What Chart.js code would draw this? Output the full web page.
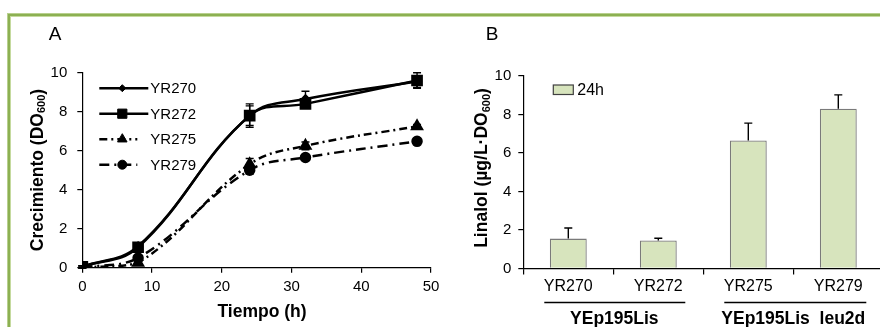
<!DOCTYPE html>
<html><head><meta charset="utf-8">
<script src="https://cdn.jsdelivr.net/npm/chart.js@4.4.0/dist/chart.umd.min.js"></script>
<style>
html,body{margin:0;padding:0;background:#fff;width:880px;height:327px;overflow:hidden;position:relative}
#frame{position:absolute;left:8px;top:14px;width:900px;height:400px;border:2px solid #8cb052;box-shadow:0 0 0 1px #b8d08e, inset 0 0 0 1px #c5da9f;}
#cA{position:absolute;left:0;top:0}
#cB{position:absolute;left:440px;top:0}
</style></head><body>
<div id="frame"></div>
<canvas id="cA" width="440" height="327"></canvas>
<canvas id="cB" width="450" height="327"></canvas>
<script>
// ---- Panel A data: growth (DO600) vs time (h)
const timeHours = [0, 8, 24, 32, 48];
const yr270 = [0.05, 1.1, 7.8, 8.65, 9.55];
const yr270Err = [0.05, 0.1, 0.5, 0.4, 0.3];
const yr272 = [0.05, 1.05, 7.8, 8.4, 9.6];
const yr272Err = [0.05, 0.1, 0.6, 0.2, 0.4];
const yr275 = [0.0, 0.25, 5.3, 6.25, 7.25];
const yr275Err = [0.02, 0.1, 0.3, 0.2, 0.1];
const yr279 = [0.0, 0.5, 5.0, 5.65, 6.48];
const yr279Err = [0.02, 0.1, 0.2, 0.1, 0.1];
const seriesNames = ['YR270', 'YR272', 'YR275', 'YR279'];
const timeTicks = [0, 10, 20, 30, 40, 50];
const growthTicks = [0, 2, 4, 6, 8, 10];

// ---- Panel B data: linalool at 24 h
const strains = ['YR270', 'YR272', 'YR275', 'YR279'];
const linalol24h = [1.55, 1.45, 6.65, 8.3];
const linalolErr = [0.55, 0.12, 0.9, 0.72];
const groupLabels = ['YEp195Lis', 'YEp195Lis  leu2d'];
const linalolTicks = [0, 2, 4, 6, 8, 10];
const legendB = '24h';

Chart.defaults.font.family = "'Liberation Sans', Arial, sans-serif";
Chart.defaults.color = '#000';
const FONT = "'Liberation Sans', Arial, sans-serif";

function toXY(xs, ys){ return xs.map((x,i)=>({x:x, y:ys[i]})); }

function drawSubTitle(ctx, cx, cy, parts, rotate){
  ctx.save();
  ctx.translate(cx, cy);
  if (rotate) ctx.rotate(-Math.PI/2);
  let total = 0;
  parts.forEach(p=>{ ctx.font = p.font; p.w = ctx.measureText(p.t).width; total += p.w; });
  let x = -total/2;
  ctx.textBaseline = 'middle';
  ctx.textAlign = 'left';
  ctx.fillStyle = '#000';
  parts.forEach(p=>{ ctx.font = p.font; ctx.fillText(p.t, x, p.dy||0); x += p.w; });
  ctx.restore();
}

function errorBars(chart, both){
  const ctx = chart.ctx;
  const ys = chart.scales.y;
  chart.data.datasets.forEach((ds, di)=>{
    if (!ds.errors) return;
    const meta = chart.getDatasetMeta(di);
    ctx.save();
    ctx.strokeStyle = '#000';
    ctx.lineWidth = 1.4;
    ctx.setLineDash([]);
    meta.data.forEach((el, i)=>{
      const v = both ? ds.data[i].y : ds.data[i];
      const e = ds.errors[i];
      const x = el.x;
      const yt = ys.getPixelForValue(v + e);
      const yb = both ? ys.getPixelForValue(v - e) : ys.getPixelForValue(v);
      ctx.beginPath();
      ctx.moveTo(x, yt); ctx.lineTo(x, yb);
      ctx.moveTo(x-4, yt); ctx.lineTo(x+4, yt);
      if (both){ ctx.moveTo(x-4, yb); ctx.lineTo(x+4, yb); }
      ctx.stroke();
    });
    ctx.restore();
  });
}

const pluginA = {
  id: 'panelA',
  afterDatasetsDraw(chart){ errorBars(chart, true); },
  afterDraw(chart){
    const ctx = chart.ctx, a = chart.chartArea;
    ctx.save();
    ctx.font = '19px ' + FONT; ctx.fillStyle = '#000';
    ctx.textAlign = 'center'; ctx.textBaseline = 'middle';
    ctx.fillText('A', 55, 35);
    ctx.font = 'bold 17.5px ' + FONT;
    ctx.fillText('Tiempo (h)', 262, 312);
    ctx.restore();
    drawSubTitle(ctx, 38, 170, [
      {t:'Crecimiento (DO', font:'bold 17.5px ' + FONT},
      {t:'600', font:'bold 11px ' + FONT, dy:4},
      {t:')', font:'bold 17.5px ' + FONT}
    ], true);
    // legend
    const rows = [15.5, 41, 66.5, 92];
    chart.data.datasets.forEach((ds, i)=>{
      const y = a.top + rows[i];
      const x0 = a.left + 17, x1 = ds.borderDash ? a.left + 55 : a.left + 66;
      ctx.save();
      ctx.strokeStyle = '#000'; ctx.fillStyle = '#000';
      ctx.lineWidth = ds.borderWidth;
      ctx.setLineDash(ds.borderDash || []);
      ctx.beginPath(); ctx.moveTo(x0, y); ctx.lineTo(x1, y); ctx.stroke();
      ctx.setLineDash([]);
      ctx.lineWidth = 1;
      Chart.helpers.drawPoint(ctx, {pointStyle: ds.pointStyle, radius: ds.pointRadius, rotation: 0, borderWidth: 1}, a.left + 40, y);
      ctx.font = '15px ' + FONT;
      ctx.textAlign = 'left'; ctx.textBaseline = 'middle';
      ctx.fillText(ds.label, a.left + 68, y + 1);
      ctx.restore();
    });
  }
};

const colorsA = '#000';
new Chart(document.getElementById('cA'), {
  type: 'line',
  data: {
    datasets: [
      {label: seriesNames[0], data: toXY(timeHours, yr270), errors: yr270Err, borderColor: colorsA, backgroundColor: colorsA,
       borderWidth: 2.5, tension: 0.4, pointStyle: 'rectRot', pointRadius: 3.5, pointBackgroundColor: colorsA, pointBorderColor: colorsA},
      {label: seriesNames[1], data: toXY(timeHours, yr272), errors: yr272Err, borderColor: colorsA, backgroundColor: colorsA,
       borderWidth: 2.5, tension: 0.4, pointStyle: 'rect', pointRadius: 6.5, pointBackgroundColor: colorsA, pointBorderColor: colorsA},
      {label: seriesNames[2], data: toXY(timeHours, yr275), errors: yr275Err, borderColor: colorsA, backgroundColor: colorsA,
       borderWidth: 2.5, tension: 0.4, borderDash: [8,4,2,4], pointStyle: 'triangle', pointRadius: 5.5, pointBackgroundColor: colorsA, pointBorderColor: colorsA},
      {label: seriesNames[3], data: toXY(timeHours, yr279), errors: yr279Err, borderColor: colorsA, backgroundColor: colorsA,
       borderWidth: 2.5, tension: 0.4, borderDash: [10,5,2,5], pointStyle: 'circle', pointRadius: 4.5, pointBackgroundColor: colorsA, pointBorderColor: colorsA}
    ]
  },
  options: {
    responsive: false, animation: false, devicePixelRatio: 1,
    layout: {padding: {top: 72.7, right: 7.3, left: 0, bottom: 0}},
    plugins: {legend: {display: false}, tooltip: {enabled: false}},
    scales: {
      x: {type: 'linear', min: 0, max: 50,
          afterBuildTicks(s){ s.ticks = timeTicks.map(v=>({value:v})); },
          afterFit(s){ s.height = 59.3; s.paddingLeft = 0; s.paddingRight = 0; },
          grid: {drawOnChartArea: false, tickLength: 5, color: '#000', lineWidth: 1.2},
          border: {color: '#000', width: 1.2},
          ticks: {font: {size: 15}, padding: 5, color: '#000', maxRotation: 0}},
      y: {min: 0, max: 10,
          afterBuildTicks(s){ s.ticks = growthTicks.map(v=>({value:v})); },
          afterFit(s){ s.width = 82.3; s.paddingTop = 0; s.paddingBottom = 0; },
          grid: {drawOnChartArea: false, tickLength: 5, color: '#000', lineWidth: 1.2},
          border: {color: '#000', width: 1.2},
          ticks: {font: {size: 15}, padding: 10, color: '#000'}}
    }
  },
  plugins: [pluginA]
});

const pluginB = {
  id: 'panelB',
  afterDatasetsDraw(chart){ errorBars(chart, false); },
  afterDraw(chart){
    const ctx = chart.ctx, a = chart.chartArea, xs = chart.scales.x;
    ctx.save();
    ctx.fillStyle = '#000';
    ctx.font = '19px ' + FONT;
    ctx.textAlign = 'center'; ctx.textBaseline = 'middle';
    ctx.fillText('B', 52, 35);
    // legend
    ctx.fillStyle = '#d7e4bd'; ctx.strokeStyle = '#404040'; ctx.lineWidth = 1.2;
    ctx.fillRect(a.left + 30, a.top + 9, 20, 9.5);
    ctx.strokeRect(a.left + 30, a.top + 9, 20, 9.5);
    ctx.fillStyle = '#000';
    ctx.font = '16px ' + FONT; ctx.textAlign = 'left';
    ctx.fillText(legendB, a.left + 54, a.top + 14.5);
    // group lines & labels
    const p = i => xs.getPixelForValue(i);
    ctx.strokeStyle = '#000'; ctx.lineWidth = 1.5;
    ctx.beginPath();
    ctx.moveTo(p(0) - 24, 302.5); ctx.lineTo(p(1) + 27, 302.5);
    ctx.moveTo(p(2) - 24, 302.5); ctx.lineTo(p(3) + 28, 302.5);
    ctx.stroke();
    ctx.font = 'bold 17.5px ' + FONT; ctx.textAlign = 'center';
    ctx.fillText(groupLabels[0], (p(0) + p(1)) / 2 + 1, 319);
    ctx.fillText(groupLabels[1], (p(2) + p(3)) / 2, 319);
    ctx.restore();
    drawSubTitle(ctx, 42.5, 168, [
      {t:'Linalol (µg/L·DO', font:'bold 17.5px ' + FONT},
      {t:'600', font:'bold 11px ' + FONT, dy:4},
      {t:')', font:'bold 17.5px ' + FONT}
    ], true);
  }
};

new Chart(document.getElementById('cB'), {
  type: 'bar',
  data: {
    labels: strains,
    datasets: [{label: legendB, data: linalol24h, errors: linalolErr,
      backgroundColor: '#d7e4bd', borderColor: '#7a7a7a', borderWidth: 1.3,
      barPercentage: 0.41, categoryPercentage: 1}]
  },
  options: {
    responsive: false, animation: false, devicePixelRatio: 1,
    layout: {padding: {top: 76, right: 6.7, left: 0, bottom: 0}},
    plugins: {legend: {display: false}, tooltip: {enabled: false}},
    scales: {
      x: {afterFit(s){ s.height = 58.6; s.paddingLeft = 0; s.paddingRight = 0; },
          grid: {drawOnChartArea: false, tickLength: 6, color: '#000', lineWidth: 1.2, offset: true},
          border: {color: '#000', width: 1.2},
          ticks: {font: {size: 16}, padding: 3, color: '#000', maxRotation: 0}},
      y: {min: 0, max: 10,
          afterBuildTicks(s){ s.ticks = linalolTicks.map(v=>({value:v})); },
          afterFit(s){ s.width = 83.3; s.paddingTop = 0; s.paddingBottom = 0; },
          grid: {drawOnChartArea: false, tickLength: 5, color: '#000', lineWidth: 1.2},
          border: {color: '#000', width: 1.2},
          ticks: {font: {size: 15}, padding: 7, color: '#000'}}
    }
  },
  plugins: [pluginB]
});
</script>
</body></html>
